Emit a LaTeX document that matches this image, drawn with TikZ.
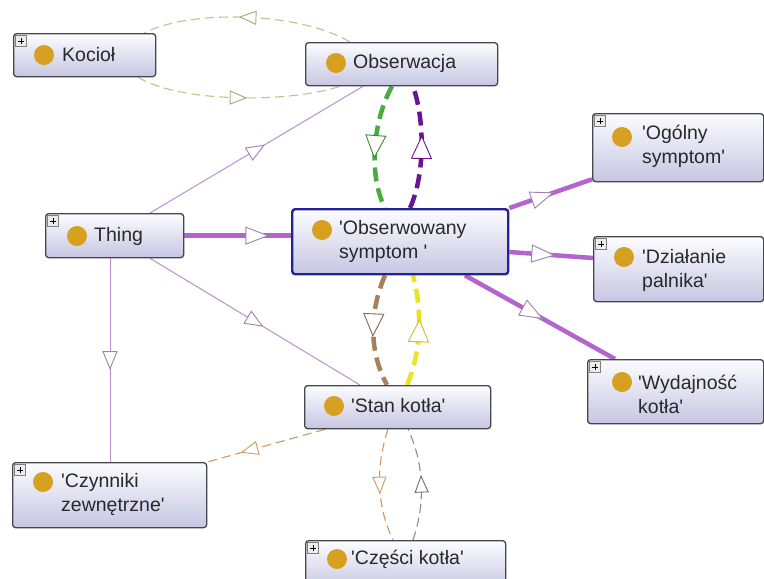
\documentclass[tikz,border=0pt]{standalone}
\usepackage{fontspec}
\setmainfont{Liberation Sans}[Ligatures=TeXOff]
\usetikzlibrary{calc,decorations.markings}

\definecolor{boxline}{RGB}{70,70,80}
\definecolor{boxtop}{RGB}{252,252,255}
\definecolor{boxbot}{RGB}{198,198,226}
\definecolor{selline}{RGB}{35,35,150}
\definecolor{dotcol}{RGB}{214,160,32}
\definecolor{txtcol}{RGB}{40,40,45}
\definecolor{khaki}{RGB}{196,192,140}
\definecolor{khakid}{RGB}{170,165,120}
\definecolor{violthick}{RGB}{180,100,205}
\definecolor{violthin}{RGB}{185,145,205}
\definecolor{violtri}{RGB}{160,130,175}
\definecolor{greenl}{RGB}{72,172,62}
\definecolor{purplel}{RGB}{105,20,145}
\definecolor{brownl}{RGB}{165,130,90}
\definecolor{yellowl}{RGB}{236,226,40}
\definecolor{orangel}{RGB}{210,150,100}
\definecolor{grayl}{RGB}{140,140,140}

\pgfdeclarelayer{bg}
\pgfsetlayers{bg,main}

\tikzset{
  clsbox/.style={draw=boxline, line width=1.3pt, rounded corners=3pt,
    top color=boxtop, bottom color=boxbot, anchor=north west, inner sep=0pt},
  selbox/.style={clsbox, draw=selline, line width=2.4pt},
  dotmark/.style={circle, fill=dotcol, minimum size=20pt, inner sep=0pt},
  clstext/.style={anchor=west, inner sep=0pt, align=left, text=txtcol,
    font=\fontsize{19.5}{24}\selectfont},
  plusbox/.style={draw=gray, fill=gray!15, minimum size=11pt, inner sep=0pt,
    path picture={\draw[line width=1pt,black]
      ($(path picture bounding box.center)+(-3,0)$) -- ($(path picture bounding box.center)+(3,0)$)
      ($(path picture bounding box.center)+(0,-3)$) -- ($(path picture bounding box.center)+(0,3)$);}},
  tri/.style n args={4}{postaction={decorate, decoration={markings,
    mark=at position #4 with {\draw[solid, line width=0.9pt, draw=#1, fill=white]
      ({#2*0.5pt},0pt) -- ({-#2*0.5pt},{#3*0.5pt}) -- ({-#2*0.5pt},{-#3*0.5pt}) -- cycle;}}}},
  thinlink/.style={draw=violthin, line width=1pt},
  thicklink/.style={draw=violthick, line width=4.5pt},
  thickdash/.style={line width=4.5pt, dash pattern=on 14pt off 7pt},
  thindash/.style={line width=1.1pt, dash pattern=on 9pt off 5pt},
}

% class box, its marker dot, its label and its expand icon
\newcommand\owlbox[5]{\node[clsbox, minimum width=#4pt, minimum height=#5pt] (#1) at (#2,#3) {};}
\newcommand\owldot[3]{\node[dotmark] (#1-dot) at ($(#1.north west)+(#2,#3)$) {};}
\newcommand\owltext[4]{\node[clstext] (#1-text) at ($(#1.north west)+(#2,#3)$) {#4};}
\newcommand\owlplus[1]{\node[plusbox] (#1-plus) at ($(#1.north west)+(8,8)$) {};}

\begin{document}
\begin{tikzpicture}[x=1pt,y=-1pt]
\useasboundingbox (0,0) rectangle (764,579);
\clip (0,0) rectangle (764,579);

% classes
\owlbox{kociol}{13}{33}{142}{43}
\owlbox{obs}{305}{42}{192}{43}
\owlbox{ogol}{592}{113}{171}{68}
\owlbox{thing}{45}{213}{138}{44}
\node[selbox, minimum width=216pt, minimum height=65pt] (sym) at (291,208) {};
\owlbox{dzial}{593}{236}{170}{65}
\owlbox{wyd}{587}{359}{176}{64}
\owlbox{stan}{304}{385}{186}{43}
\owlbox{czyn}{12}{462}{194}{65}
\owlbox{czesci}{305}{540}{200}{50}

\owldot{kociol}{31}{22}  \owltext{kociol}{49}{22}{Kocioł}
\owldot{obs}{31}{21}     \owltext{obs}{48}{21}{Obserwacja}
\owldot{ogol}{30}{24}    \owltext{ogol}{50}{33}{'Ogólny\\symptom'}
\owldot{thing}{32}{23}   \owltext{thing}{49}{23}{Thing}
\owldot{sym}{31}{22}     \owltext{sym}{48}{33}{'Obserwowany\\symptom '}
\owldot{dzial}{31}{21}   \owltext{dzial}{49}{34}{'Działanie\\palnika'}
\owldot{wyd}{35}{23}     \owltext{wyd}{51}{35}{'Wydajność\\kotła'}
\owldot{stan}{30}{21}    \owltext{stan}{47}{21}{'Stan kotła'}
\owldot{czyn}{31}{20}    \owltext{czyn}{49}{32}{'Czynniki\\zewnętrzne'}
\owldot{czesci}{32}{19}  \owltext{czesci}{46}{19}{'Części kotła'}

\owlplus{kociol}
\owlplus{ogol}
\owlplus{thing}
\owlplus{dzial}
\owlplus{wyd}
\owlplus{czyn}
\owlplus{czesci}

\begin{pgfonlayer}{bg}
\fill[white] (0,0) rectangle (764,579);

% Obserwacja / Kocioł
\draw[khaki, thindash, tri={khakid}{16}{13}{0.5}]
  ($(obs.north west)+(45,0)$) .. controls (300,12) and (190,9) .. ($(kociol.north east)+(-12,0)$);
\draw[khaki, thindash, tri={khakid}{16}{13}{0.5}]
  ($(kociol.south east)+(-18,0)$) .. controls (180,103) and (290,103) .. ($(obs.south west)+(35,0)$);

% subclass links from Thing
\draw[thinlink, tri={violtri}{17}{14}{0.5}] ($(thing.north west)+(105,0)$) -- ($(obs.south west)+(58,0)$);
\draw[thicklink, tri={violtri}{22}{17}{0.68}] (thing.east) -- (thing.east -| sym.west);
\draw[thinlink, tri={violtri}{17}{14}{0.5}] ($(thing.south west)+(105,0)$) -- ($(stan.north west)+(56,0)$);
\draw[thinlink, tri={violtri}{17}{14}{0.5}] ($(thing.south west)+(65,0)$) -- ($(czyn.north west)+(98,0)$);

% Obserwacja / 'Obserwowany symptom '
\draw[greenl, thickdash, tri={greenl!80!black}{22}{20}{0.5}]
  ($(obs.south west)+(87,0)$) .. controls (373,120) and (368,175) .. ($(sym.north west)+(94,0)$);
\draw[purplel, thickdash, tri={purplel}{22}{20}{0.5}]
  ($(sym.north west)+(119,0)$) .. controls (425,175) and (425,120) .. ($(obs.south west)+(108,0)$);

% 'Obserwowany symptom ' / 'Stan kotła'
\draw[brownl, thickdash, tri={brownl!80!black}{22}{20}{0.45}]
  ($(sym.south west)+(94,0)$) .. controls (370,310) and (368,350) .. ($(stan.north west)+(83,0)$);
\draw[yellowl, thickdash, tri={yellowl!85!black}{22}{20}{0.5}]
  ($(stan.north west)+(103,0)$) .. controls (422,350) and (422,310) .. ($(sym.south west)+(122,0)$);

% 'Stan kotła' / 'Części kotła'
\draw[orangel, thindash, tri={orangel}{16}{13}{0.5}]
  ($(stan.south west)+(84,0)$) .. controls (376,465) and (376,505) .. ($(czesci.north west)+(88,0)$);
\draw[grayl, thindash, tri={grayl!80!black}{16}{13}{0.5}]
  ($(czesci.north west)+(108,0)$) .. controls (425,505) and (425,465) .. ($(stan.south west)+(104,0)$);

% 'Stan kotła' / 'Czynniki zewnętrzne'
\draw[orangel, thindash, tri={orangel}{16}{13}{0.64}] ($(stan.south west)+(21,0)$) -- (czyn.north east);

% subclasses of 'Obserwowany symptom '
\draw[thicklink, tri={violtri}{22}{17}{0.4}] (sym.north east) -- ($(ogol.south west)+(0,-3)$);
\draw[thicklink, tri={violtri}{22}{17}{0.4}] ($(sym.north east)+(0,44)$) -- ($(dzial.north west)+(0,22)$);
\draw[thicklink, tri={violtri}{22}{17}{0.45}] ($(sym.south west)+(174,0)$) -- ($(wyd.north west)+(28,0)$);
\end{pgfonlayer}
\end{tikzpicture}
\end{document}
